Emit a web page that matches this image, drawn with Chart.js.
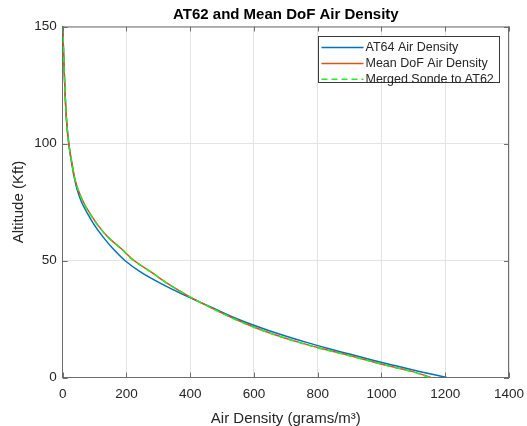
<!DOCTYPE html>
<html lang="en">
<head>
    <meta charset="UTF-8">
    <title>AT62 and Mean DoF Air Density</title>
    <script src="https://cdn.jsdelivr.net/npm/chart.js"></script>
    <style>
        html, body { margin: 0; padding: 0; background: #fff; }
        #wrap { width: 527px; height: 426px; }
    </style>
</head>
<body>
    <div id="wrap"><canvas id="densityChart" width="527" height="426"></canvas></div>

    <script>
        // Altitude levels (Kft) and air density at each level (grams/m^3)
        const altitudeKft = [0, 2.5, 5, 7.5, 10, 12.5, 15, 20, 25, 30, 35, 40, 45, 50, 55, 60, 65, 70, 75, 80, 85, 90, 100, 110, 120, 130, 140, 150];
        const at64Density = [1205, 1122, 1045, 970, 900, 830, 765, 648, 548, 466, 385, 310, 245, 195, 158, 127, 100, 78, 59, 46, 37, 30, 19, 12, 8, 5, 2.5, 0];
        const meanDofDensity = [1155, 1098, 1022, 952, 882, 808, 742, 630, 540, 463, 392, 331, 278, 224, 184, 142, 111, 86, 65, 49, 38, 31, 19, 12, 8, 5, 2.5, 0];
        const mergedSondeDensity = [1150, 1095, 1020, 950, 880, 805, 740, 628, 538, 462, 392, 330, 278, 222, 184, 142, 110, 85, 64, 49, 38, 31, 19, 12, 8, 5, 2.5, 0];

        const xTicks = [0, 200, 400, 600, 800, 1000, 1200, 1400];
        const yTicks = [0, 50, 100, 150];

        const seriesNames = ['AT64 Air Density', 'Mean DoF Air Density', 'Merged Sonde to AT62'];
        const chartTitle = 'AT62 and Mean DoF Air Density';

        const toPoints = dens => dens.map((d, i) => ({ x: d, y: altitudeKft[i] }));

        const axisColor = '#6e6e6e';
        const textColor = '#262626';
        const fontFamily = '"Liberation Sans", Arial, sans-serif';

        // box, inward ticks, title and legend drawn on top of the plot
        const matlabAxes = {
            id: 'matlabAxes',
            afterDraw(chart) {
                const { ctx, chartArea: a, scales } = chart;
                ctx.save();
                ctx.strokeStyle = axisColor;
                ctx.lineWidth = 1;
                ctx.beginPath();
                ctx.moveTo(a.left, a.top + 0.5); ctx.lineTo(a.right, a.top + 0.5);
                ctx.moveTo(a.right - 0.5, a.top); ctx.lineTo(a.right - 0.5, a.bottom);
                xTicks.forEach(v => {
                    const px = Math.round(scales.x.getPixelForValue(v)) + 0.5;
                    ctx.moveTo(px, a.bottom); ctx.lineTo(px, a.bottom - 5);
                    ctx.moveTo(px, a.top); ctx.lineTo(px, a.top + 5);
                });
                yTicks.forEach(v => {
                    const py = Math.round(scales.y.getPixelForValue(v)) + 0.5;
                    ctx.moveTo(a.left, py); ctx.lineTo(a.left + 5, py);
                    ctx.moveTo(a.right, py); ctx.lineTo(a.right - 5, py);
                });
                ctx.stroke();

                // title
                ctx.fillStyle = '#000';
                ctx.font = 'bold 15px ' + fontFamily;
                ctx.textAlign = 'center';
                ctx.textBaseline = 'middle';
                ctx.fillText(chartTitle, (a.left + a.right) / 2, 14.5);

                // legend
                const lx = 318.5, ly = 36.5, lw = 181, lh = 46;
                ctx.fillStyle = '#fff';
                ctx.fillRect(lx, ly, lw, lh);
                ctx.strokeStyle = '#3a3a3a';
                ctx.strokeRect(lx, ly, lw, lh);
                ctx.font = '12.5px ' + fontFamily;
                ctx.textAlign = 'left';
                chart.data.datasets.forEach((ds, i) => {
                    const y = ly + 11 + i * 15.9;
                    ctx.beginPath();
                    ctx.strokeStyle = ds.borderColor;
                    ctx.lineWidth = 1.5;
                    ctx.setLineDash(ds.borderDash || []);
                    ctx.moveTo(lx + 3, y); ctx.lineTo(lx + 45, y);
                    ctx.stroke();
                    ctx.setLineDash([]);
                    ctx.fillStyle = textColor;
                    ctx.fillText(ds.label, lx + 47, y + 0.5);
                });
                ctx.restore();
            }
        };

        const lineStyle = {
            borderWidth: 1.5,
            showLine: true,
            cubicInterpolationMode: 'monotone',
            pointRadius: 0
        };

        new Chart(document.getElementById('densityChart'), {
            type: 'scatter',
            data: {
                datasets: [
                    { ...lineStyle, label: seriesNames[0], data: toPoints(at64Density), borderColor: '#0072BD', order: 2 },
                    { ...lineStyle, label: seriesNames[1], data: toPoints(meanDofDensity), borderColor: '#D95319', order: 1 },
                    { ...lineStyle, label: seriesNames[2], data: toPoints(mergedSondeDensity), borderColor: '#22ee22', borderDash: [6, 4], order: 0 }
                ]
            },
            options: {
                responsive: false,
                animation: false,
                indexAxis: 'y',
                layout: { padding: { top: 26.5, right: 18, left: 0, bottom: 0 } },
                plugins: {
                    legend: { display: false },
                    title: { display: false },
                    tooltip: { enabled: false }
                },
                scales: {
                    x: {
                        type: 'linear',
                        position: 'bottom',
                        min: 0,
                        max: 1400,
                        afterBuildTicks: s => { s.ticks = xTicks.map(v => ({ value: v })); },
                        afterFit: s => { s.height = 48.5; s.paddingLeft = 0; s.paddingRight = 0; },
                        grid: { color: '#e4e4e4', drawTicks: false },
                        border: { color: axisColor, width: 1 },
                        ticks: {
                            color: textColor,
                            padding: 9,
                            maxRotation: 0,
                            callback: v => String(v),
                            font: { family: fontFamily, size: 13.5 }
                        },
                        title: {
                            display: true,
                            text: 'Air Density (grams/m³)',
                            color: textColor,
                            padding: { top: 0, bottom: 0 },
                            font: { family: fontFamily, size: 15, lineHeight: 1 }
                        }
                    },
                    y: {
                        type: 'linear',
                        position: 'left',
                        min: 0,
                        max: 150,
                        afterBuildTicks: s => { s.ticks = yTicks.map(v => ({ value: v })); },
                        afterFit: s => { s.width = 62.7; s.paddingTop = 0; s.paddingBottom = 0; },
                        grid: { color: '#e4e4e4', drawTicks: false },
                        border: { color: axisColor, width: 1 },
                        ticks: {
                            color: textColor,
                            padding: 6,
                            callback: v => String(v),
                            font: { family: fontFamily, size: 13.5 }
                        },
                        title: {
                            display: true,
                            text: 'Altitude (Kft)',
                            color: textColor,
                            padding: { top: 10, bottom: 0 },
                            font: { family: fontFamily, size: 15 }
                        }
                    }
                }
            },
            plugins: [matlabAxes]
        });
    </script>
</body>
</html>
